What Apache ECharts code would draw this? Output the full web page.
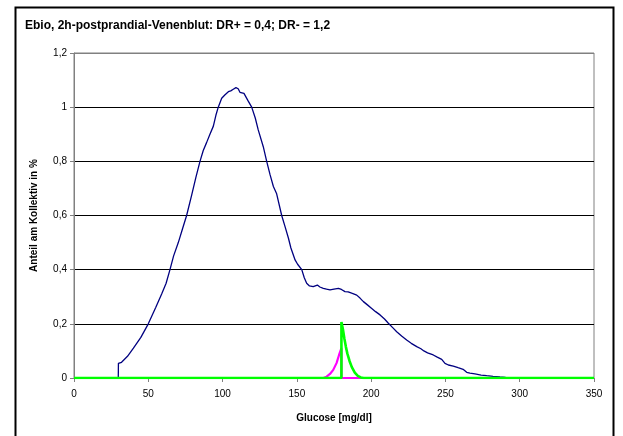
<!DOCTYPE html>
<html><head><meta charset="utf-8">
<script src="https://cdn.jsdelivr.net/npm/echarts@6/dist/echarts.min.js"></script>
<style>html,body{margin:0;padding:0;background:#fff}#c{width:623px;height:436px}</style>
</head><body><div id="c"></div>
<script>
var titleText = 'Ebio, 2h-postprandial-Venenblut: DR+ = 0,4; DR- = 1,2';
var xName = 'Glucose [mg/dl]';
var yName = 'Anteil am Kollektiv in %';
var xTicks = [0, 50, 100, 150, 200, 250, 300, 350];
var yTicks = [0, 0.2, 0.4, 0.6, 0.8, 1.0, 1.2];

var blueSeries = [[0,0],[29.8,0],[29.9,0.054],[32,0.058],[36,0.08],[40,0.11],[45,0.15],[50,0.2],[55,0.26],[59,0.31],[62,0.35],[64.6,0.4],[67,0.45],[70.2,0.5],[73,0.55],[75.8,0.6],[79.2,0.675],[82,0.74],[84.8,0.8],[87,0.84],[89.3,0.87],[91.5,0.9],[93.8,0.93],[95.5,0.97],[97.1,1.0],[99.4,1.033],[101.5,1.045],[103.9,1.057],[105.5,1.06],[107.2,1.066],[109,1.072],[110.5,1.068],[111.7,1.055],[114.4,1.051],[117,1.025],[119.6,1.0],[122,0.96],[124,0.916],[127.4,0.854],[129.7,0.8],[132,0.75],[134.2,0.707],[136.4,0.68],[139.8,0.6],[142,0.56],[144.3,0.517],[146,0.48],[148.8,0.436],[150.5,0.42],[153.3,0.4],[155,0.37],[156.6,0.35],[158.5,0.34],[161,0.337],[163.8,0.343],[165.5,0.336],[167.8,0.331],[170,0.328],[172.3,0.325],[175,0.328],[178,0.331],[180,0.327],[182.4,0.319],[184.5,0.318],[186.9,0.313],[190.3,0.306],[192.5,0.295],[194.8,0.282],[197.5,0.27],[200.4,0.257],[203,0.245],[206,0.233],[209,0.218],[211.6,0.202],[214.5,0.186],[217.2,0.171],[220.5,0.155],[223.9,0.14],[227,0.128],[230.7,0.116],[233.5,0.108],[235.5,0.1],[238,0.093],[241.8,0.085],[244.5,0.077],[247.5,0.069],[249.7,0.054],[252,0.048],[255.3,0.044],[258.5,0.038],[261.9,0.032],[264.3,0.021],[266.5,0.018],[269.9,0.015],[274,0.011],[277.8,0.0085],[282,0.006],[286.7,0.0037],[290.5,0.002],[294.6,0.001],[297,0],[350,0]];

var magentaSeries = [[0,0],[168,0],[170,0.005],[172.3,0.015],[174.5,0.03],[176.7,0.055],[178.4,0.085],[180,0.11],[180,0],[350,0]];

var greenSeries = [[0,0],[180,0],[180,0.207],[181,0.18],[182,0.145],[183,0.115],[184,0.09],[185.5,0.062],[187,0.04],[189,0.02],[191,0.008],[193,0.002],[195,0],[350,0]];

var fmt = function (v) { return String(Math.round(v * 10) / 10).replace('.', ','); };
var font = 'Liberation Sans, Arial, sans-serif';

var chart = echarts.init(document.getElementById('c'), null, {renderer: 'canvas'});
chart.setOption({
  backgroundColor: '#fff',
  animation: false,
  title: {
    text: titleText, left: 25, top: 20, padding: 0,
    textStyle: {fontFamily: font, fontSize: 12, fontWeight: 'bold', color: '#000'}
  },
  graphic: [{
    type: 'rect', left: 13, top: 5, silent: true,
    shape: {x: 0, y: 0, width: 598, height: 440},
    style: {fill: 'none', stroke: '#000', lineWidth: 2}
  }],
  grid: {left: 74, right: 29, top: 53, bottom: 58, show: true, borderColor: '#808080', borderWidth: 1, backgroundColor: 'transparent'},
  xAxis: {
    type: 'value', min: 0, max: 350, interval: 50,
    name: xName, nameLocation: 'middle', nameGap: 35,
    nameTextStyle: {fontFamily: font, fontSize: 10, fontWeight: 'bold', color: '#000'},
    axisLine: {show: true, lineStyle: {color: '#808080', width: 1}},
    axisTick: {show: true, length: 4, lineStyle: {color: '#808080'}},
    axisLabel: {fontFamily: font, fontSize: 10, color: '#000', margin: 11, formatter: function (v) { return String(v); }},
    splitLine: {show: false}
  },
  yAxis: {
    type: 'value', min: 0, max: 1.2, interval: 0.2,
    name: yName, nameLocation: 'middle', nameGap: 35, nameRotate: 90,
    nameTextStyle: {fontFamily: font, fontSize: 10, fontWeight: 'bold', color: '#000'},
    axisLine: {show: true, lineStyle: {color: '#808080', width: 1}},
    axisTick: {show: true, length: 4, lineStyle: {color: '#808080'}},
    axisLabel: {fontFamily: font, fontSize: 10, color: '#000', margin: 7, formatter: fmt},
    splitLine: {show: true, lineStyle: {color: ['#808080', '#000', '#000', '#000', '#000', '#000', '#808080'], width: 1}}
  },
  series: [
    {type: 'line', data: blueSeries, symbol: 'none', lineStyle: {color: '#000080', width: 1.3}, z: 2},
    {type: 'line', data: magentaSeries, symbol: 'none', lineStyle: {color: '#FF00FF', width: 2.2}, z: 3},
    {type: 'line', data: greenSeries, symbol: 'none', lineStyle: {color: '#00FF00', width: 2.6}, z: 4}
  ]
});
</script></body></html>
